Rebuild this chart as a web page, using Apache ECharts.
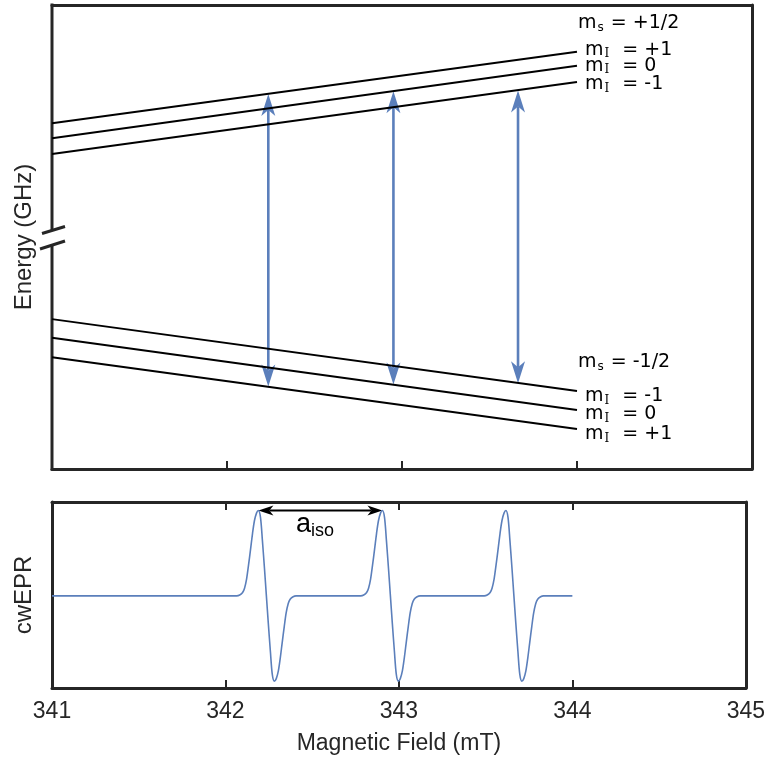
<!DOCTYPE html>
<html><head><meta charset="utf-8">
<script src="https://cdn.jsdelivr.net/npm/echarts@6/dist/echarts.min.js"></script>
<style>html,body{margin:0;padding:0;background:#fff}#c{width:768px;height:760px}</style>
</head><body><div id="c"></div><script>
// ---------- data ----------
const fieldTicks = [341, 342, 343, 344, 345];
const levelField = [341, 344];
// upper manifold (m_s = +1/2), energy in arbitrary units
const upperPlus1 = [74.5, 89.9];
const upperZero = [71.3, 86.9];
const upperMinus1 = [67.9, 83.4];
// lower manifold (m_s = -1/2)
const lowerMinus1 = [32.3, 16.8];
const lowerZero = [28.3, 12.7];
const lowerPlus1 = [24.1, 8.6];
const levelNames = ['+1', '0', '-1', '-1', '0', '+1'];
// EPR transitions
const transField = [342.236, 342.951, 343.663];
const transLow = [17.8, 18.2, 18.5];
const transHigh = [80.8, 81.4, 81.6];
// cw EPR spectrum (first derivative)
const eprField = [341.000,
  342.065, 342.082, 342.099, 342.110, 342.122, 342.133, 342.145, 342.156, 342.167, 342.179, 342.190,
  342.202, 342.213, 342.225, 342.236, 342.247, 342.259, 342.270, 342.282, 342.293, 342.305,
  342.316, 342.327, 342.339, 342.350, 342.362, 342.373, 342.390, 342.407,
  342.780, 342.797, 342.814, 342.825, 342.837, 342.848, 342.860, 342.871, 342.882, 342.894, 342.905,
  342.917, 342.928, 342.940, 342.951, 342.962, 342.974, 342.985, 342.997, 343.008, 343.020,
  343.031, 343.042, 343.054, 343.065, 343.077, 343.088, 343.105, 343.122,
  343.492, 343.509, 343.526, 343.537, 343.549, 343.560, 343.572, 343.583, 343.594, 343.606, 343.617,
  343.629, 343.640, 343.652, 343.663, 343.674, 343.686, 343.697, 343.709, 343.720, 343.732,
  343.743, 343.754, 343.766, 343.777, 343.789, 343.800, 343.817, 343.834,
  344.000];
const eprSignal = [0,
  0, 0.01, 0.04, 0.09, 0.20, 0.36, 0.55, 0.73, 0.88, 0.97, 1.00,
  0.92, 0.65, 0.32, 0, -0.32, -0.65, -0.92, -1.00, -0.97, -0.88,
  -0.73, -0.55, -0.36, -0.20, -0.09, -0.04, -0.01, 0,
  0, 0.01, 0.04, 0.09, 0.20, 0.36, 0.55, 0.73, 0.88, 0.97, 1.00,
  0.92, 0.65, 0.32, 0, -0.32, -0.65, -0.92, -1.00, -0.97, -0.88,
  -0.73, -0.55, -0.36, -0.20, -0.09, -0.04, -0.01, 0,
  0, 0.01, 0.04, 0.09, 0.20, 0.36, 0.55, 0.73, 0.88, 0.97, 1.00,
  0.92, 0.65, 0.32, 0, -0.32, -0.65, -0.92, -1.00, -0.97, -0.88,
  -0.73, -0.55, -0.36, -0.20, -0.09, -0.04, -0.01, 0,
  0];
const aisoFrom = 342.190, aisoTo = 342.905, aisoLevel = 1.0;

// ---------- chart ----------
const FRAME = '#262626';
const BLUE = '#5b7fbb';
const chart = echarts.init(document.getElementById('c'), null, {renderer: 'canvas'});

function arrowHead(tip, dir, L, W, N) {
  const px = -dir[1], py = dir[0];
  return [
    [tip[0], tip[1]],
    [tip[0] - dir[0]*L + px*W/2, tip[1] - dir[1]*L + py*W/2],
    [tip[0] - dir[0]*N, tip[1] - dir[1]*N],
    [tip[0] - dir[0]*L - px*W/2, tip[1] - dir[1]*L - py*W/2]
  ];
}
function doubleArrow(p1, p2, color, lw, L, W, N) {
  const dx = p2[0]-p1[0], dy = p2[1]-p1[1];
  const len = Math.sqrt(dx*dx+dy*dy);
  const d = [dx/len, dy/len];
  const nd = [-d[0], -d[1]];
  return {type: 'group', children: [
    {type: 'line', shape: {x1: p1[0]+d[0]*N, y1: p1[1]+d[1]*N, x2: p2[0]-d[0]*N, y2: p2[1]-d[1]*N},
     style: {stroke: color, lineWidth: lw}},
    {type: 'polygon', shape: {points: arrowHead(p2, d, L, W, N)}, style: {fill: color}},
    {type: 'polygon', shape: {points: arrowHead(p1, nd, L, W, N)}, style: {fill: color}}
  ]};
}

const levelSets = [upperPlus1, upperZero, upperMinus1, lowerMinus1, lowerZero, lowerPlus1];
const labelDy = [-2, 0, 2, 5, 4, 5];
const richLbl = {
  m: {fontFamily: 'DejaVu Sans', fontSize: 19, color: '#000'},
  i: {fontFamily: 'DejaVu Serif', fontSize: 12, color: '#000', padding: [9, 1, 0, 1]},
  s: {fontFamily: 'DejaVu Sans', fontSize: 12, color: '#000', padding: [9, 1, 0, 1]}
};
const levelSeries = levelSets.map((vals, k) => ({
  type: 'line', xAxisIndex: 0, yAxisIndex: 0,
  data: levelField.map((f, j) => [f, vals[j]]),
  showSymbol: false, silent: true, animation: false,
  lineStyle: {color: '#000', width: 2},
  endLabel: {show: true, distance: 8, offset: [0, labelDy[k]],
    formatter: '{m|m}{i|I}{m|  = ' + levelNames[k] + '}', rich: richLbl}
}));

const axisLineStyle = {onZero: false, lineStyle: {color: FRAME, width: 3}};
const option = {
  animation: false,
  grid: [
    {left: 52, width: 700, top: 5, height: 464},
    {left: 52, width: 700, top: 502, height: 186}
  ],
  xAxis: [
    {gridIndex: 0, type: 'value', min: fieldTicks[0], max: fieldTicks[fieldTicks.length-1], interval: 1,
     position: 'bottom', axisLine: axisLineStyle,
     axisTick: {inside: true, length: 8, lineStyle: {color: FRAME, width: 2}},
     axisLabel: {show: false}, splitLine: {show: false}},
    {gridIndex: 0, type: 'value', min: 341, max: 345, interval: 1, position: 'top',
     axisLine: axisLineStyle, axisTick: {show: false}, axisLabel: {show: false}, splitLine: {show: false}},
    {gridIndex: 1, type: 'value', min: fieldTicks[0], max: fieldTicks[fieldTicks.length-1], interval: 1,
     position: 'bottom', axisLine: axisLineStyle,
     axisTick: {inside: true, length: 8, lineStyle: {color: FRAME, width: 2}},
     axisLabel: {fontFamily: 'Liberation Sans', fontSize: 23, color: FRAME, margin: 12},
     splitLine: {show: false},
     name: 'Magnetic Field (mT)', nameLocation: 'middle', nameGap: 44,
     nameTextStyle: {fontFamily: 'Liberation Sans', fontSize: 23, color: FRAME}},
    {gridIndex: 1, type: 'value', min: 341, max: 345, interval: 1, position: 'top',
     axisLine: axisLineStyle,
     axisTick: {inside: true, length: 8, lineStyle: {color: FRAME, width: 2}},
     axisLabel: {show: false}, splitLine: {show: false}}
  ],
  yAxis: [
    {gridIndex: 0, type: 'value', min: 0, max: 100, axisLine: {show: false, onZero: false}, axisTick: {show: false},
     axisLabel: {show: false}, splitLine: {show: false},
     name: 'Energy (GHz)', nameLocation: 'middle', nameGap: 16,
     nameTextStyle: {fontFamily: 'Liberation Sans', fontSize: 24, color: FRAME}},
    {gridIndex: 0, type: 'value', min: 0, max: 100, position: 'right', axisLine: {show: true, ...axisLineStyle},
     axisTick: {show: false}, axisLabel: {show: false}, splitLine: {show: false}},
    {gridIndex: 1, type: 'value', min: -1.08, max: 1.1, axisLine: {show: true, ...axisLineStyle},
     axisTick: {show: false}, axisLabel: {show: false}, splitLine: {show: false},
     name: 'cwEPR', nameLocation: 'middle', nameGap: 16,
     nameTextStyle: {fontFamily: 'Liberation Sans', fontSize: 24, color: FRAME}},
    {gridIndex: 1, type: 'value', min: -1.08, max: 1.1, position: 'right', axisLine: {show: true, ...axisLineStyle},
     axisTick: {show: false}, axisLabel: {show: false}, splitLine: {show: false}}
  ],
  series: [
    ...levelSeries,
    {type: 'custom', coordinateSystem: 'cartesian2d', xAxisIndex: 0, yAxisIndex: 0, silent: true,
     data: transField.map((f, i) => [f, transLow[i], transHigh[i]]),
     encode: {x: 0, y: [1, 2]},
     renderItem: function (params, api) {
       const p1 = api.coord([api.value(0), api.value(1)]);
       const p2 = api.coord([api.value(0), api.value(2)]);
       return doubleArrow(p1, p2, BLUE, 2.6, 22, 14, 16);
     }},
    {type: 'line', xAxisIndex: 2, yAxisIndex: 2, silent: true,
     data: eprField.map((f, i) => [f, eprSignal[i]]),
     showSymbol: false, smooth: 0.3,
     lineStyle: {color: BLUE, width: 1.6}},
    {type: 'custom', coordinateSystem: 'cartesian2d', xAxisIndex: 2, yAxisIndex: 2, silent: true,
     data: [[aisoFrom, aisoTo, aisoLevel]],
     encode: {x: [0, 1], y: 2},
     renderItem: function (params, api) {
       const p1 = api.coord([api.value(0), api.value(2)]);
       const p2 = api.coord([api.value(1), api.value(2)]);
       return doubleArrow(p1, p2, '#000', 2, 15, 10, 11);
     }}
  ],
  graphic: [
    // left axis with a break
    {type: 'line', shape: {x1: 52, y1: 3.5, x2: 52, y2: 230}, style: {stroke: FRAME, lineWidth: 3}},
    {type: 'line', shape: {x1: 52, y1: 246, x2: 52, y2: 470.5}, style: {stroke: FRAME, lineWidth: 3}},
    {type: 'line', shape: {x1: 42, y1: 233.5, x2: 65, y2: 226.5}, style: {stroke: FRAME, lineWidth: 3}},
    {type: 'line', shape: {x1: 40, y1: 249, x2: 65, y2: 241}, style: {stroke: FRAME, lineWidth: 3}},
    {type: 'text', x: 578, y: 23, style: {text: '{m|m}{s|s}{m| = +1/2}', rich: richLbl, verticalAlign: 'middle', align: 'left'}},
    {type: 'text', x: 578, y: 362, style: {text: '{m|m}{s|s}{m| = -1/2}', rich: richLbl, verticalAlign: 'middle', align: 'left'}},
    {type: 'text', x: 296, y: 525, style: {text: '{a|a}{b|iso}', verticalAlign: 'middle', align: 'left',
      rich: {a: {fontFamily: 'Liberation Sans', fontSize: 27, color: '#000'},
             b: {fontFamily: 'Liberation Sans', fontSize: 18, color: '#000', padding: [12, 0, 0, 0]}}}}
  ]
};
chart.setOption(option);
</script></body></html>
